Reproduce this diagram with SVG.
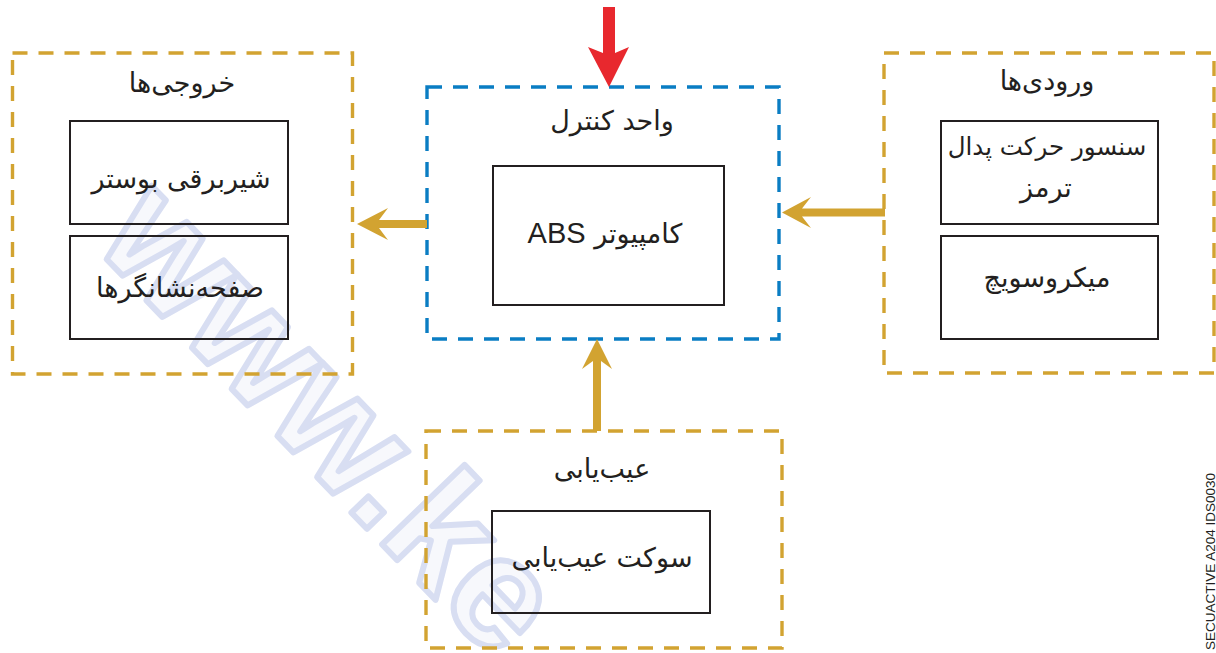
<svg xmlns="http://www.w3.org/2000/svg" width="1216" height="653" viewBox="0 0 1216 653">
  <style>
    .group-box { fill: none; stroke: #d2a331; stroke-width: 3.4; stroke-dasharray: 15 11; }
    .control-box { fill: none; stroke: #0a7dc3; stroke-width: 3.4; stroke-dasharray: 15 11; }
    .item { fill: none; stroke: #231f20; stroke-width: 2; }
    .fa { font-family: "DejaVu Sans", "Noto Sans", sans-serif; font-size: 27px; fill: #231f20; text-anchor: middle; direction: rtl; }
    .fa.small { font-size: 24.5px; }
    .latin { font-family: "Liberation Sans", Arial, sans-serif; font-size: 29px; }
    .flow { fill: #d2a331; }
    .mark { font-family: "Liberation Sans", Arial, sans-serif; font-weight: bold; font-size: 158px; fill: #f7f8fc; stroke: #d8def2; stroke-width: 6; stroke-linejoin: round; }
    .code { font-family: "Liberation Sans", Arial, sans-serif; font-size: 13.5px; fill: #231f20; text-anchor: end; }
  </style>

  <rect width="1216" height="653" fill="#ffffff"/>

  <!-- background watermark -->
  <text class="mark" x="0" y="0" transform="translate(92,244) rotate(46)">www.ke</text>

  <!-- outputs -->
  <g id="outputs">
    <rect class="group-box" x="12.5" y="53" width="340" height="321"/>
    <text class="fa" x="182" y="92">خروجی‌ها</text>
    <rect class="item" x="70" y="121" width="218" height="103"/>
    <text class="fa" x="181" y="188">شیربرقی بوستر</text>
    <rect class="item" x="70" y="236" width="218" height="103"/>
    <text class="fa" x="180" y="297">صفحه‌نشانگرها</text>
  </g>

  <!-- control unit -->
  <g id="control-unit">
    <rect class="control-box" x="427" y="87" width="352" height="252"/>
    <text class="fa" x="612" y="130">واحد کنترل</text>
    <rect class="item" x="493" y="166" width="231" height="139"/>
    <text class="fa" x="605" y="243">کامپیوتر <tspan class="latin">ABS</tspan></text>
  </g>

  <!-- inputs -->
  <g id="inputs">
    <rect class="group-box" x="884" y="53" width="330" height="320"/>
    <text class="fa" x="1047" y="90">ورودی‌ها</text>
    <rect class="item" x="941" y="121" width="217" height="103"/>
    <text class="fa small" x="1047" y="155">سنسور حرکت پدال</text>
    <text class="fa" x="1046" y="197">ترمز</text>
    <rect class="item" x="941" y="236" width="217" height="103"/>
    <text class="fa" x="1047" y="287">میکروسویچ</text>
  </g>

  <!-- diagnostics -->
  <g id="diagnostics">
    <rect class="group-box" x="426" y="431" width="356" height="217"/>
    <text class="fa" x="602" y="478">عیب‌یابی</text>
    <rect class="item" x="492" y="511" width="218" height="102"/>
    <text class="fa" x="602" y="567">سوکت عیب‌یابی</text>
  </g>

  <!-- connectors -->
  <g id="connectors">
    <path fill="#e8282e" d="M603,7 L615,7 L615,53 L629,47 L609,87 L588,47 L603,53 Z"/>
    <path class="flow" d="M357,224 L388,208 L379,220 L427,220 L427,228 L379,228 L388,240 Z"/>
    <path class="flow" d="M782,212.5 L811,197 L802,208.5 L885,208.5 L885,216.5 L802,216.5 L811,228 Z"/>
    <path class="flow" d="M597,339 L612,369 L601,361 L601,431 L593,431 L593,361 L582,369 Z"/>
  </g>

  <!-- figure code -->
  <text class="code" transform="translate(1215,473) rotate(-90)">SECUACTIVE A204 IDS0030</text>
</svg>
